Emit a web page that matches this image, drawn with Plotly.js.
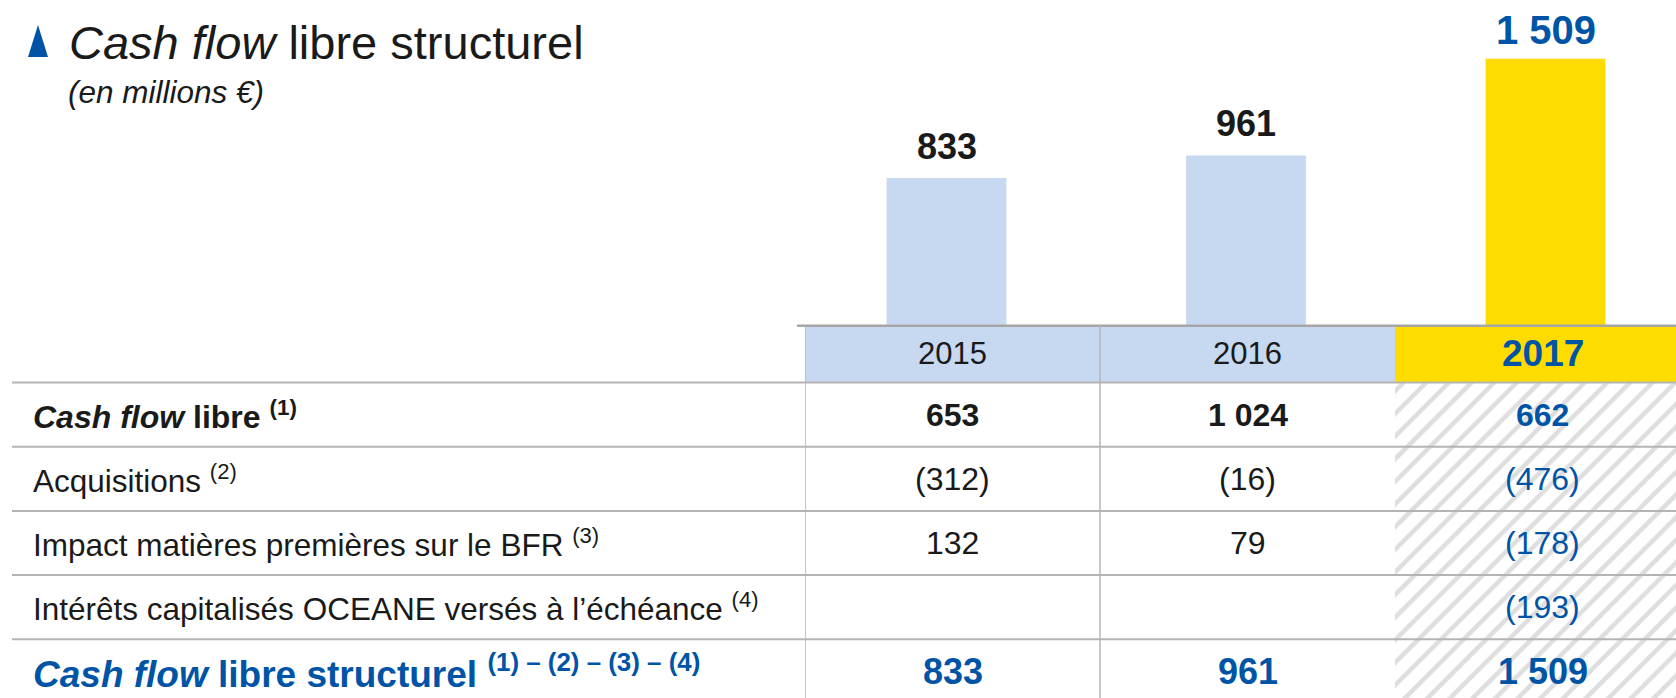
<!DOCTYPE html>
<html>
<head>
<meta charset="utf-8">
<script src="https://cdn.plot.ly/plotly-3.0.1.min.js"></script>
<style>html,body{margin:0;padding:0;background:#fff;}#chart{width:1676px;height:698px;}</style>
</head>
<body>
<div id="chart"></div>
<script>
// ---- data ----
const years = ['2015', '2016', '2017'];
const rowLabels = [
  '<b><i>Cash flow</i> libre <sup>(1)</sup></b>',
  'Acquisitions <sup>(2)</sup>',
  'Impact matières premières sur le BFR <sup>(3)</sup>',
  'Intérêts capitalisés OCEANE versés à l’échéance <sup>(4)</sup>',
  '<b><i>Cash flow</i> libre structurel <sup>(1) – (2) – (3) – (4)</sup></b>'
];
const cashFlowLibre = [653, 1024, 662];
const acquisitions = [-312, -16, -476];
const impactBFR = [132, 79, -178];
const interetsOceane = [null, null, -193];
const cashFlowStructurel = [833, 961, 1509];
const titleText = '<i>Cash flow</i> libre structurel';
const subtitleText = '<i>(en millions €)</i>';

// ---- styling ----
const W = 1676, H = 698;
const FONT = 'Liberation Sans, Arial, sans-serif';
const DARK = '#1a1a1a', BLUE = '#0054a6', LBLUE = '#c6d9f0', YELLOW = '#ffdc00', LINE = '#b4b4b4';
const px = x => x / W;
const py = y => 1 - y / H;

const tableRows = [cashFlowLibre, acquisitions, impactBFR, interetsOceane, cashFlowStructurel];
function fmt(n) {
  if (n === null || n === undefined) return '';
  const s = Math.abs(n).toString().replace(/\B(?=(\d{3})+(?!\d))/g, '\u00a0');
  return n < 0 ? '(' + s + ')' : s;
}

// table axis geometry (row index units)
const rowTop = 382.5, rowH = 64.2, headTop = 325;
const y2Top = -0.5 - (rowTop - headTop) / rowH;
const y2Bot = (H - rowTop) / rowH - 0.5;
const colLeft = 805, colW = 295;
const x2Max = -0.5 + (W - colLeft) / colW;
// bar axis geometry
const barLeft = 797, barStep = 299.5, barC0 = 946.5;
const xMin = (barLeft - barC0) / barStep, xMax = (W - barC0) / barStep;
const pxPerUnit = 0.1765, baseY = 325;
const yMax = baseY / pxPerUnit;
const lastIdx = years.length - 1;

const traces = [
  {
    type: 'bar', x: years, y: cashFlowStructurel, xaxis: 'x', yaxis: 'y',
    width: 0.4,
    marker: { color: years.map((y, i) => i === lastIdx ? YELLOW : LBLUE), line: { width: 0 } },
    hoverinfo: 'skip'
  },
  {
    type: 'bar', x: [years[lastIdx]], y: [y2Bot + 0.5], base: [-0.5],
    xaxis: 'x2', yaxis: 'y2', width: 1,
    marker: { color: 'white', line: { width: 0 },
      pattern: { shape: '/', fgcolor: '#dedede', bgcolor: 'white', fillmode: 'replace', size: 16, solidity: 0.28 } },
    hoverinfo: 'skip'
  }
];

const annotations = [];
// title
annotations.push({ xref: 'paper', yref: 'paper', x: px(67), y: py(42.5), xanchor: 'left', yanchor: 'middle',
  text: titleText, showarrow: false, font: { family: FONT, size: 47, color: DARK } });
annotations.push({ xref: 'paper', yref: 'paper', x: px(66), y: py(92), xanchor: 'left', yanchor: 'middle',
  text: subtitleText, showarrow: false, font: { family: FONT, size: 31.5, color: DARK } });
// bar labels
cashFlowStructurel.forEach((v, i) => {
  const last = i === lastIdx;
  annotations.push({ xref: 'x', yref: 'y', x: i, y: v, xanchor: 'center', yanchor: 'bottom', yshift: last ? 5 : 9,
    text: '<b>' + fmt(v) + '</b>', showarrow: false,
    font: { family: FONT, size: last ? 40 : 36, color: last ? BLUE : DARK } });
});
// header
years.forEach((yr, i) => {
  const last = i === lastIdx;
  annotations.push({ xref: 'x2', yref: 'y2', x: i, y: (y2Top - 0.5) / 2, xanchor: 'center', yanchor: 'middle',
    text: last ? '<b>' + yr + '</b>' : yr, showarrow: false,
    font: { family: FONT, size: last ? 37 : 31, color: last ? BLUE : DARK } });
});
// row labels and cells
rowLabels.forEach((lab, r) => {
  const total = r === rowLabels.length - 1;
  annotations.push({ xref: 'paper', yref: 'y2', x: px(31), y: r, xanchor: 'left', yanchor: 'middle',
    text: lab, showarrow: false,
    font: { family: FONT, size: total ? 37 : (r === 0 ? 32 : 31.5), color: total ? BLUE : DARK } });
  tableRows[r].forEach((v, c) => {
    if (v === null) return;
    const bold = r === 0 || total;
    const col = (total || c === lastIdx) ? BLUE : DARK;
    annotations.push({ xref: 'x2', yref: 'y2', x: c, y: r, xanchor: 'center', yanchor: 'middle',
      text: bold ? '<b>' + fmt(v) + '</b>' : fmt(v), showarrow: false,
      font: { family: FONT, size: total ? 36 : 32, color: col } });
  });
});

const shapes = [];
// title triangle
shapes.push({ type: 'path', xref: 'paper', yref: 'paper', line: { width: 0 }, fillcolor: BLUE,
  path: `M ${px(28)} ${py(57)} L ${px(48)} ${py(57)} L ${px(38)} ${py(25)} Z` });
// header fills
shapes.push({ type: 'rect', xref: 'x2', yref: 'y2', x0: -0.5, x1: lastIdx - 0.5, y0: y2Top, y1: -0.5,
  fillcolor: LBLUE, line: { width: 0 }, layer: 'below' });
shapes.push({ type: 'rect', xref: 'x2', yref: 'y2', x0: lastIdx - 0.5, x1: x2Max, y0: y2Top, y1: -0.5,
  fillcolor: YELLOW, line: { width: 0 }, layer: 'below' });
// bar baseline
shapes.push({ type: 'line', xref: 'paper', yref: 'paper', x0: px(797), x1: 1, y0: py(325.7), y1: py(325.7),
  line: { color: '#a6a6a6', width: 2.5 } });
// horizontal table lines
for (let r = 0; r < rowLabels.length; r++) {
  shapes.push({ type: 'line', xref: 'paper', yref: 'y2', x0: px(12), x1: 1, y0: r - 0.5, y1: r - 0.5,
    line: { color: LINE, width: 2 } });
}
// vertical table lines
[-0.5, 0.5].forEach(xv => {
  shapes.push({ type: 'line', xref: 'x2', yref: 'paper', x0: xv, x1: xv, y0: 0, y1: py(325.7),
    line: { color: LINE, width: 1.5 } });
});

const layout = {
  width: W, height: H, margin: { l: 0, r: 0, t: 0, b: 0 },
  paper_bgcolor: 'white', plot_bgcolor: 'rgba(0,0,0,0)', showlegend: false,
  xaxis: { domain: [px(barLeft), 1], range: [xMin, xMax], type: 'category', categoryorder: 'array',
    categoryarray: years, visible: false, fixedrange: true },
  yaxis: { domain: [py(baseY), 1], range: [0, yMax], visible: false, fixedrange: true },
  xaxis2: { domain: [px(colLeft), 1], range: [-0.5, x2Max], type: 'category', categoryorder: 'array',
    categoryarray: years, anchor: 'y2', visible: false },
  yaxis2: { domain: [0, py(headTop)], range: [y2Bot, y2Top], anchor: 'x2', visible: false },
  annotations: annotations, shapes: shapes
};

Plotly.newPlot('chart', traces, layout, { staticPlot: true, displayModeBar: false });
</script>
</body>
</html>
